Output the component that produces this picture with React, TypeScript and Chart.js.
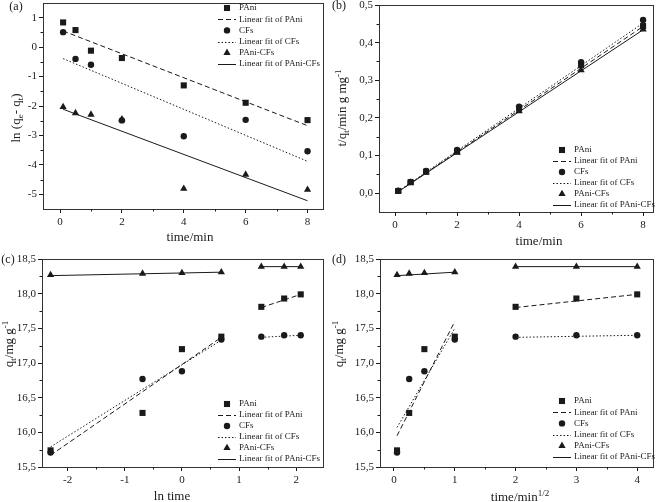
import React, { useEffect, useRef } from "react";
import { Chart, registerables } from "chart.js";
Chart.register(...registerables);

const FONT = "'Liberation Serif', 'Times New Roman', serif";

// ---------- data ----------
const timeMin = [0.1, 0.5, 1, 2, 4, 6, 8];
// (a) pseudo-first-order
const aPAni = [0.84, 0.58, -0.12, -0.37, -1.3, -1.89, -2.48];
const aCFs = [0.51, -0.4, -0.6, -2.49, -3.03, -2.47, -3.54];
const aPAniCFs = [-2.03, -2.24, -2.29, -2.45, -4.81, -4.33, -4.84];
const aFitX = [0.1, 8];
const aFitPAni = [0.55, -2.67];
const aFitCFs = [-0.39, -3.88];
const aFitPAniCFs = [-2.11, -5.22];
// (b) pseudo-second-order
const bPAni = [0.006, 0.029, 0.057, 0.111, 0.225, 0.34, 0.444];
const bCFs = [0.006, 0.03, 0.059, 0.115, 0.23, 0.348, 0.46];
const bPAniCFs = [0.0055, 0.028, 0.055, 0.108, 0.218, 0.327, 0.435];
const bFitX = [0.1, 8];
const bFitPAni = [0.004, 0.443];
const bFitCFs = [0.005, 0.452];
const bFitPAniCFs = [0.004, 0.434];
// (c) Elovich
const lnTime = [-2.3, -0.69, 0, 0.69, 1.39, 1.79, 2.08];
const qPAni = [15.74, 16.28, 17.2, 17.38, 17.81, 17.93, 17.99];
const qCFs = [15.71, 16.77, 16.88, 17.34, 17.38, 17.4, 17.4];
const qPAniCFs = [18.27, 18.29, 18.3, 18.31, 18.39, 18.39, 18.39];
const cFitX1 = [-2.3, 0.69];
const cFitX2 = [1.39, 2.08];
const cFitPAni1 = [15.67, 17.37];
const cFitPAni2 = [17.8, 17.99];
const cFitCFs1 = [15.79, 17.33];
const cFitCFs2 = [17.37, 17.4];
const cFitPAniCFs1 = [18.26, 18.31];
const cFitPAniCFs2 = [18.39, 18.39];
// (d) intraparticle diffusion
const sqrtTime = [0.05, 0.25, 0.5, 1, 2, 3, 4];
const dFitX1 = [0.05, 1];
const dFitX2 = [2, 4];
const dFitPAni1 = [15.95, 17.6];
const dFitPAni2 = [17.8, 17.99];
const dFitCFs1 = [16.07, 17.5];
const dFitCFs2 = [17.37, 17.4];
const dFitPAniCFs1 = [18.26, 18.31];
const dFitPAniCFs2 = [18.39, 18.39];

// tick labels
const ticksTimeX = [0, 2, 4, 6, 8];
const ticksAY = [-5, -4, -3, -2, -1, 0, 1];
const ticksBY = [0, 0.1, 0.2, 0.3, 0.4, 0.5];
const ticksCX = [-2, -1, 0, 1, 2];
const ticksDX = [0, 1, 2, 3, 4];
const ticksQY = [15.5, 16, 16.5, 17, 17.5, 18, 18.5];

const legendLabels = [
  "PAni",
  "Linear fit of PAni",
  "CFs",
  "Linear fit of CFs",
  "PAni-CFs",
  "Linear fit of PAni-CFs",
];

// ---------- helpers ----------
type Part = { t: string; s?: "sub" | "sup" };
const pts = (xs: number[], ys: number[]) => xs.map((x, i) => ({ x, y: ys[i] }));
const seg2 = (x1: number[], y1: number[], x2: number[], y2: number[]) => [
  ...pts(x1, y1),
  { x: (x1[1] + x2[0]) / 2, y: null as any },
  ...pts(x2, y2),
];

const INK = "#1a1a1a";
const DASH = [5, 3];
const DOT = [1.5, 2];

function markerDs(label: string, data: any[], style: string, r: number) {
  return {
    label,
    data,
    showLine: false,
    pointStyle: style,
    pointRadius: r,
    pointBackgroundColor: INK,
    pointBorderColor: INK,
    pointBorderWidth: 0,
  };
}
function lineDs(label: string, data: any[], dash: number[]) {
  return {
    label,
    data,
    showLine: true,
    borderColor: INK,
    borderWidth: 1,
    borderDash: dash,
    pointRadius: 0,
    spanGaps: false,
    tension: 0,
  };
}

function drawRich(ctx: CanvasRenderingContext2D, parts: Part[], x: number, y: number, size: number, rotate: boolean) {
  ctx.save();
  ctx.translate(x, y);
  if (rotate) ctx.rotate(-Math.PI / 2);
  let total = 0;
  const widths = parts.map((p) => {
    ctx.font = `${p.s ? Math.round(size * 0.68) : size}px ${FONT}`;
    const w = ctx.measureText(p.t).width;
    total += w;
    return w;
  });
  let cx = -total / 2;
  ctx.textBaseline = "middle";
  ctx.textAlign = "left";
  ctx.fillStyle = INK;
  parts.forEach((p, i) => {
    ctx.font = `${p.s ? Math.round(size * 0.68) : size}px ${FONT}`;
    const dy = p.s === "sub" ? size * 0.3 : p.s === "sup" ? -size * 0.35 : 0;
    ctx.fillText(p.t, cx, dy);
    cx += widths[i];
  });
  ctx.restore();
}

function drawMarker(ctx: CanvasRenderingContext2D, style: string, x: number, y: number, r: number) {
  ctx.beginPath();
  if (style === "rect") {
    const s = r * Math.SQRT1_2;
    ctx.rect(x - s, y - s, 2 * s, 2 * s);
  } else if (style === "circle") {
    ctx.arc(x, y, r, 0, Math.PI * 2);
  } else {
    const a = (2 * Math.PI) / 3;
    ctx.moveTo(x, y - r);
    ctx.lineTo(x + Math.sin(a) * r, y - Math.cos(a) * r);
    ctx.lineTo(x - Math.sin(a) * r, y - Math.cos(a) * r);
    ctx.closePath();
  }
  ctx.fillStyle = INK;
  ctx.fill();
}

const M = 10;

type PanelSpec = {
  ox: number;
  oy: number;
  w: number;
  h: number;
  area: { l: number; r: number; t: number; b: number };
  xMin: number;
  xMax: number;
  xTicks: number[];
  xMinor: number[];
  yMin: number;
  yMax: number;
  yTicks: number[];
  yMinor: number[];
  yFmt: (v: number) => string;
  xTitle: Part[];
  xTitlePos: [number, number];
  yTitle: Part[];
  yTitlePos: [number, number];
  tag: string;
  tagPos: [number, number];
  legend: { tx: number; y0: number; dy: number };
  datasets: any[];
};

function range(a: number, b: number, s: number) {
  const out: number[] = [];
  for (let v = a; v <= b + 1e-9; v += s) out.push(Math.round(v * 1000) / 1000);
  return out;
}

const commaFmt = (v: number) => v.toFixed(1).replace(".", ",");

const R_SQ = 4.3;
const R_CI = 3.2;
const R_TR = 4.2;

const panels: PanelSpec[] = [
  {
    ox: 0, oy: 0, w: 330, h: 251,
    area: { l: 43, r: 323, t: 3, b: 209 },
    xMin: -0.55, xMax: 8.5, xTicks: ticksTimeX, xMinor: [1, 3, 5, 7],
    yMin: -5.5, yMax: 1.5, yTicks: ticksAY, yMinor: range(-4.5, 0.5, 1),
    yFmt: (v) => String(v),
    xTitle: [{ t: "time/min" }], xTitlePos: [190, 238],
    yTitle: [{ t: "ln (q" }, { t: "e", s: "sub" }, { t: "- q" }, { t: "t", s: "sub" }, { t: ")" }],
    yTitlePos: [17, 118],
    tag: "(a)", tagPos: [16, 7],
    legend: { tx: 239, y0: 8, dy: 11.2 },
    datasets: [
      markerDs("PAni", pts(timeMin, aPAni), "rect", R_SQ),
      lineDs("Linear fit of PAni", pts(aFitX, aFitPAni), DASH),
      markerDs("CFs", pts(timeMin, aCFs), "circle", R_CI),
      lineDs("Linear fit of CFs", pts(aFitX, aFitCFs), DOT),
      markerDs("PAni-CFs", pts(timeMin, aPAniCFs), "triangle", R_TR),
      lineDs("Linear fit of PAni-CFs", pts(aFitX, aFitPAniCFs), []),
    ],
  },
  {
    ox: 330, oy: 0, w: 331, h: 251,
    area: { l: 49, r: 323, t: 5, b: 212 },
    xMin: -0.52, xMax: 8.32, xTicks: ticksTimeX, xMinor: [1, 3, 5, 7],
    yMin: -0.05, yMax: 0.5, yTicks: ticksBY, yMinor: range(0.05, 0.45, 0.1),
    yFmt: commaFmt,
    xTitle: [{ t: "time/min" }], xTitlePos: [209, 242],
    yTitle: [{ t: "t/q" }, { t: "t", s: "sub" }, { t: "/min g mg" }, { t: "-1", s: "sup" }],
    yTitlePos: [13, 108],
    tag: "(b)", tagPos: [9, 6],
    legend: { tx: 244, y0: 150, dy: 11 },
    datasets: [
      markerDs("PAni", pts(timeMin, bPAni), "rect", R_SQ),
      lineDs("Linear fit of PAni", pts(bFitX, bFitPAni), DASH),
      markerDs("CFs", pts(timeMin, bCFs), "circle", R_CI),
      lineDs("Linear fit of CFs", pts(bFitX, bFitCFs), DOT),
      markerDs("PAni-CFs", pts(timeMin, bPAniCFs), "triangle", R_TR),
      lineDs("Linear fit of PAni-CFs", pts(bFitX, bFitPAniCFs), []),
    ],
  },
  {
    ox: 0, oy: 251, w: 330, h: 251,
    area: { l: 42, r: 323, t: 8, b: 216 },
    xMin: -2.45, xMax: 2.47, xTicks: ticksCX, xMinor: [-1.5, -0.5, 0.5, 1.5],
    yMin: 15.5, yMax: 18.5, yTicks: ticksQY, yMinor: range(15.75, 18.25, 0.5),
    yFmt: commaFmt,
    xTitle: [{ t: "ln time" }], xTitlePos: [172, 246],
    yTitle: [{ t: "q" }, { t: "t", s: "sub" }, { t: "/mg g" }, { t: "-1", s: "sup" }],
    yTitlePos: [10, 93],
    tag: "(c)", tagPos: [8, 9],
    legend: { tx: 239, y0: 153, dy: 11 },
    datasets: [
      markerDs("PAni", pts(lnTime, qPAni), "rect", R_SQ),
      lineDs("Linear fit of PAni", seg2(cFitX1, cFitPAni1, cFitX2, cFitPAni2), DASH),
      markerDs("CFs", pts(lnTime, qCFs), "circle", R_CI),
      lineDs("Linear fit of CFs", seg2(cFitX1, cFitCFs1, cFitX2, cFitCFs2), DOT),
      markerDs("PAni-CFs", pts(lnTime, qPAniCFs), "triangle", R_TR),
      lineDs("Linear fit of PAni-CFs", seg2(cFitX1, cFitPAniCFs1, cFitX2, cFitPAniCFs2), []),
    ],
  },
  {
    ox: 330, oy: 251, w: 331, h: 251,
    area: { l: 50, r: 323, t: 8, b: 216 },
    xMin: -0.23, xMax: 4.26, xTicks: ticksDX, xMinor: [0.5, 1.5, 2.5, 3.5],
    yMin: 15.5, yMax: 18.5, yTicks: ticksQY, yMinor: range(15.75, 18.25, 0.5),
    yFmt: commaFmt,
    xTitle: [{ t: "time/min" }, { t: "1/2", s: "sup" }], xTitlePos: [190, 247],
    yTitle: [{ t: "q" }, { t: "t", s: "sub" }, { t: "/mg g" }, { t: "-1", s: "sup" }],
    yTitlePos: [10, 93],
    tag: "(d)", tagPos: [9, 9],
    legend: { tx: 244, y0: 150, dy: 11.2 },
    datasets: [
      markerDs("PAni", pts(sqrtTime, qPAni), "rect", R_SQ),
      lineDs("Linear fit of PAni", seg2(dFitX1, dFitPAni1, dFitX2, dFitPAni2), DASH),
      markerDs("CFs", pts(sqrtTime, qCFs), "circle", R_CI),
      lineDs("Linear fit of CFs", seg2(dFitX1, dFitCFs1, dFitX2, dFitCFs2), DOT),
      markerDs("PAni-CFs", pts(sqrtTime, qPAniCFs), "triangle", R_TR),
      lineDs("Linear fit of PAni-CFs", seg2(dFitX1, dFitPAniCFs1, dFitX2, dFitPAniCFs2), []),
    ],
  },
];

function Panel({ spec }: { spec: PanelSpec }) {
  const ref = useRef<HTMLCanvasElement>(null);
  useEffect(() => {
    const canvas = ref.current!;
    const { area, w, h } = spec;
    const decor = {
      id: "decor",
      afterDraw(chart: any) {
        const ctx = chart.ctx as CanvasRenderingContext2D;
        const ca = chart.chartArea;
        const xs = chart.scales.x;
        const ys = chart.scales.y;
        ctx.save();
        // frame
        ctx.strokeStyle = "#333";
        ctx.lineWidth = 1;
        ctx.strokeRect(Math.round(ca.left) + 0.5, Math.round(ca.top) + 0.5, Math.round(ca.right - ca.left), Math.round(ca.bottom - ca.top));
        // minor ticks
        ctx.strokeStyle = INK;
        ctx.beginPath();
        spec.xMinor.forEach((v) => {
          const px = Math.round(xs.getPixelForValue(v)) + 0.5;
          ctx.moveTo(px, ca.bottom);
          ctx.lineTo(px, ca.bottom + 2.5);
        });
        spec.yMinor.forEach((v) => {
          const py = Math.round(ys.getPixelForValue(v)) + 0.5;
          ctx.moveTo(ca.left, py);
          ctx.lineTo(ca.left - 2.5, py);
        });
        ctx.stroke();
        // titles
        drawRich(ctx, spec.xTitle, spec.xTitlePos[0] + M, spec.xTitlePos[1] + M, 13, false);
        drawRich(ctx, spec.yTitle, spec.yTitlePos[0] + M, spec.yTitlePos[1] + M, 13, true);
        // tag
        ctx.font = `12px ${FONT}`;
        ctx.fillStyle = INK;
        ctx.textAlign = "center";
        ctx.textBaseline = "middle";
        ctx.fillText(spec.tag, spec.tagPos[0] + M, spec.tagPos[1] + M);
        // legend
        const lg = spec.legend;
        ctx.font = `9px ${FONT}`;
        ctx.textAlign = "left";
        chart.data.datasets.forEach((ds: any, i: number) => {
          const yy = lg.y0 + i * lg.dy + M;
          if (ds.showLine) {
            ctx.save();
            ctx.strokeStyle = INK;
            ctx.lineWidth = 1;
            ctx.setLineDash(ds.borderDash || []);
            ctx.beginPath();
            ctx.moveTo(lg.tx - 21 + M, Math.round(yy) + 0.5);
            ctx.lineTo(lg.tx - 3 + M, Math.round(yy) + 0.5);
            ctx.stroke();
            ctx.restore();
          } else {
            drawMarker(ctx, ds.pointStyle, lg.tx - 12 + M, yy, ds.pointRadius);
          }
          ctx.fillStyle = INK;
          ctx.fillText(legendLabels[i], lg.tx + M, yy);
        });
        ctx.restore();
      },
    };
    const tickFont = { family: FONT, size: 11 };
    const chart = new Chart(canvas, {
      type: "line",
      data: { datasets: spec.datasets },
      options: {
        animation: false,
        responsive: false,
        maintainAspectRatio: false,
        layout: { padding: { left: M, top: area.t + M, right: w - area.r + M, bottom: M } },
        plugins: { legend: { display: false }, tooltip: { enabled: false } },
        scales: {
          x: {
            type: "linear",
            min: spec.xMin,
            max: spec.xMax,
            afterBuildTicks: (s: any) => {
              s.ticks = spec.xTicks.map((v) => ({ value: v }));
            },
            afterFit: (s: any) => {
              s.height = h - area.b;
            },
            ticks: {
              autoSkip: false,
              maxRotation: 0,
              padding: 3,
              color: INK,
              font: tickFont,
              callback: (v: any) => String(Math.round(Number(v) * 100) / 100),
            },
            grid: { drawOnChartArea: false, drawTicks: true, tickLength: 4, tickColor: INK },
            border: { display: false },
          },
          y: {
            type: "linear",
            min: spec.yMin,
            max: spec.yMax,
            afterBuildTicks: (s: any) => {
              s.ticks = spec.yTicks.map((v) => ({ value: v }));
            },
            afterFit: (s: any) => {
              s.width = area.l;
            },
            ticks: {
              autoSkip: false,
              padding: 2,
              color: INK,
              font: tickFont,
              callback: (v: any) => spec.yFmt(Math.round(Number(v) * 1000) / 1000),
            },
            grid: { drawOnChartArea: false, drawTicks: true, tickLength: 4, tickColor: INK },
            border: { display: false },
          },
        },
      } as any,
      plugins: [decor],
    });
    return () => chart.destroy();
  }, [spec]);
  return (
    <canvas
      ref={ref}
      width={spec.w + 2 * M}
      height={spec.h + 2 * M}
      style={{
        position: "absolute",
        left: spec.ox - M,
        top: spec.oy - M,
        width: spec.w + 2 * M,
        height: spec.h + 2 * M,
      }}
    />
  );
}

export default function App() {
  return (
    <div style={{ position: "absolute", left: 0, top: 0, width: 661, height: 502, background: "#fff", overflow: "hidden" }}>
      {panels.map((p, i) => (
        <Panel key={i} spec={p} />
      ))}
    </div>
  );
}
